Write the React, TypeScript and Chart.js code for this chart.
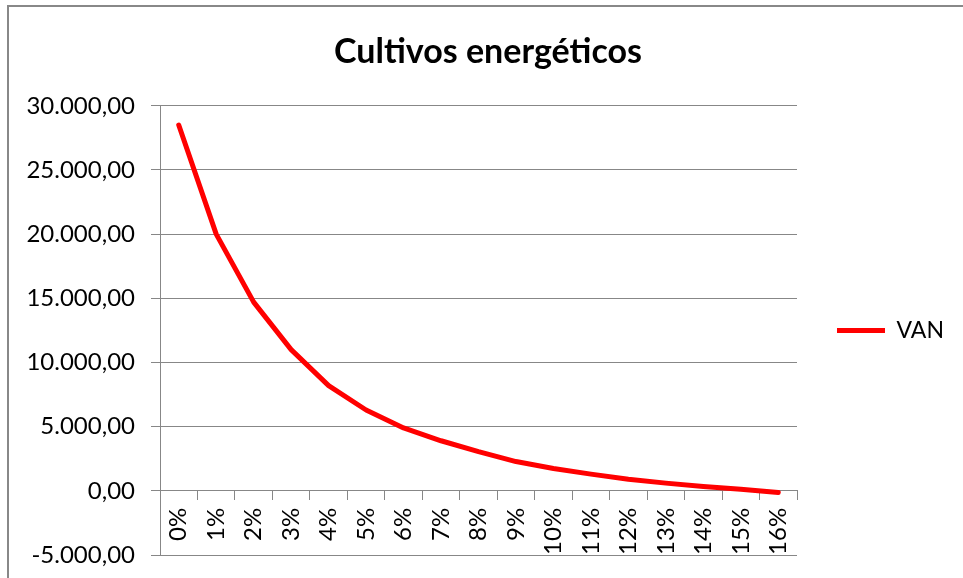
import React, { useEffect, useRef } from 'react';
import { Chart, registerables } from 'chart.js';

Chart.register(...registerables);

const categories = ['0%', '1%', '2%', '3%', '4%', '5%', '6%', '7%', '8%', '9%', '10%', '11%', '12%', '13%', '14%', '15%', '16%'];
const vanValues = [28500, 20000, 14700, 11000, 8200, 6300, 4900, 3900, 3050, 2280, 1740, 1300, 910, 600, 340, 130, -130];
const seriesLabel = 'VAN';
const chartTitle = 'Cultivos energéticos';
const yMin = -5000;
const yMax = 30000;
const yStep = 5000;

const GRID = '#878787';
const FONT = 'Lato';

function formatEs(v: number): string {
  const neg = v < 0;
  const s = Math.abs(v).toFixed(2);
  const [i, d] = s.split('.');
  const ii = i.replace(/\B(?=(\d{3})+(?!\d))/g, '.');
  return (neg ? '-' : '') + ii + ',' + d;
}

export default function App() {
  const canvasRef = useRef<HTMLCanvasElement | null>(null);

  useEffect(() => {
    if (!canvasRef.current) return;
    const chart = new Chart(canvasRef.current, {
      type: 'line',
      data: {
        labels: categories,
        datasets: [
          {
            label: seriesLabel,
            data: vanValues,
            borderColor: '#ff0000',
            backgroundColor: '#ff0000',
            borderWidth: 5,
            pointRadius: 0,
            pointHoverRadius: 0,
            tension: 0,
            fill: false,
            borderCapStyle: 'round',
            borderJoinStyle: 'round',
          },
        ],
      },
      options: {
        responsive: false,
        animation: false,
        layout: { padding: { left: 23, right: 10, top: 0, bottom: 23 } },
        plugins: {
          title: {
            display: true,
            text: chartTitle,
            color: '#000',
            font: { family: FONT, size: 34, weight: 'bold' },
            padding: { top: 32, bottom: 33 },
          },
          legend: {
            position: 'right',
            fullSize: false,
            maxWidth: 156,
            labels: {
              usePointStyle: true,
              pointStyle: 'line',
              pointStyleWidth: 48,
              padding: 40,
              color: '#000',
              font: { family: FONT, size: 23 },
            },
          },
          tooltip: { enabled: false },
        },
        scales: {
          x: {
            type: 'category',
            position: { y: 0 } as any,
            offset: true,
            grid: {
              offset: true,
              drawOnChartArea: false,
              drawTicks: true,
              tickLength: 9,
              color: GRID,
            },
            border: { display: true, color: GRID, width: 1 },
            ticks: {
              minRotation: 90,
              maxRotation: 90,
              autoSkip: false,
              padding: 8,
              color: '#000',
              font: { family: FONT, size: 24 },
            },
            afterFit: (s: any) => {
              s.height = 0;
              s.paddingLeft = 0;
              s.paddingRight = 0;
              s.paddingTop = 0;
              s.paddingBottom = 0;
            },
          },
          y: {
            min: yMin,
            max: yMax,
            ticks: {
              stepSize: yStep,
              padding: 16,
              color: '#000',
              font: { family: FONT, size: 24 },
              callback: (v: any) => formatEs(Number(v)),
            },
            grid: { color: GRID, drawTicks: true, tickLength: 9 },
            border: { display: true, color: GRID, width: 1 },
            afterFit: (s: any) => {
              s.width = 137;
              s.paddingTop = 0;
              s.paddingBottom = 0;
            },
          },
        },
      },
    });
    return () => chart.destroy();
  }, []);

  return (
    <div
      style={{
        position: 'fixed',
        left: 0,
        top: 0,
        width: 963,
        height: 578,
        overflow: 'hidden',
        background: '#fff',
      }}
    >
      <div
        style={{
          position: 'absolute',
          left: 7,
          top: 5,
          width: 1100,
          height: 800,
          border: '2px solid #888',
          boxSizing: 'border-box',
        }}
      />
      <canvas
        ref={canvasRef}
        width={963}
        height={578}
        style={{ position: 'absolute', left: 0, top: 0, width: 963, height: 578 }}
      />
    </div>
  );
}
